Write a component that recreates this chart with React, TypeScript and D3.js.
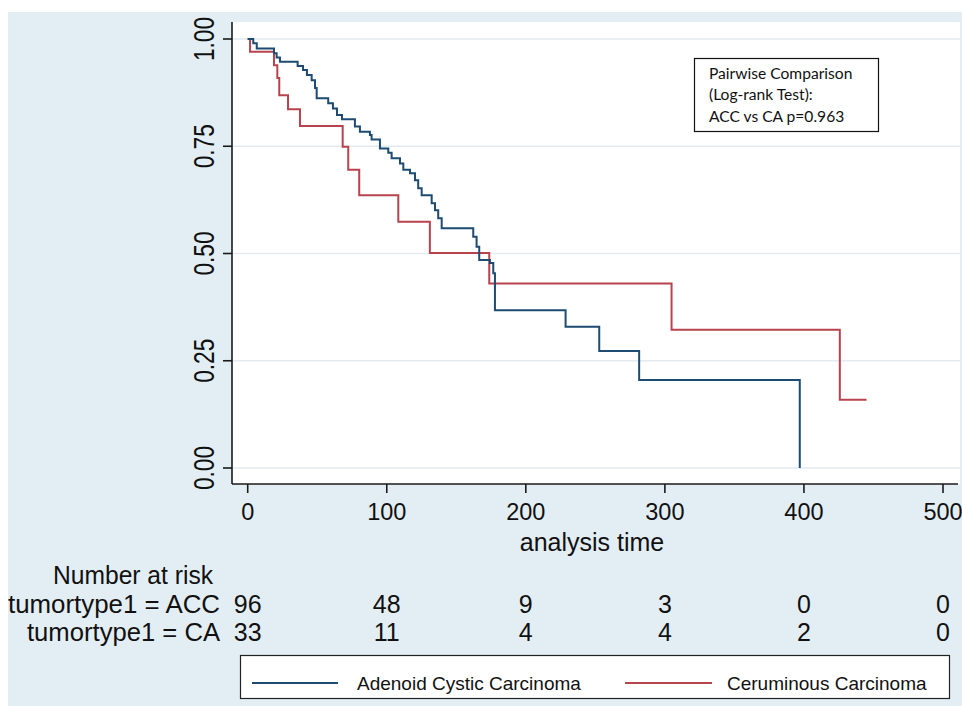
import React from "react";
import * as d3 from "d3";

const accTimes = [0, 4.0, 6.5, 18.9, 20.8, 23.2, 35.9, 39.8, 42.6, 46.0, 48.4, 49.6, 57.9, 61.3, 64.2, 67.8, 77.1, 80.7, 87.9, 89.1, 95.1, 101.1, 103.5, 109.5, 111.9, 116.7, 120.3, 122.6, 125.1, 132.3, 134.7, 137.0, 139.5, 162.2, 164.6, 166.5, 174.2, 176.6, 177.8, 228.6, 252.8, 281.5, 397];
const accSurv = [1, 0.990, 0.978, 0.967, 0.957, 0.947, 0.937, 0.928, 0.916, 0.904, 0.886, 0.862, 0.850, 0.838, 0.823, 0.813, 0.796, 0.784, 0.776, 0.766, 0.745, 0.735, 0.722, 0.710, 0.695, 0.687, 0.671, 0.652, 0.636, 0.617, 0.601, 0.582, 0.559, 0.539, 0.516, 0.485, 0.478, 0.454, 0.368, 0.329, 0.273, 0.205, 0];

const caTimes = [0, 1.7, 18.9, 21.3, 22.7, 29.0, 37.6, 68.3, 72.3, 80.2, 108.3, 131.0, 173.7, 304.8, 425.8, 445];
const caSurv = [1, 0.970, 0.939, 0.909, 0.869, 0.836, 0.797, 0.749, 0.695, 0.636, 0.574, 0.501, 0.430, 0.322, 0.159, 0.159];

const xTicks = [0, 100, 200, 300, 400, 500];
const yTicks = [0, 0.25, 0.5, 0.75, 1];
const riskRowLabels = ["tumortype1 = ACC", "tumortype1 = CA"];
const riskACC = [96, 48, 9, 3, 0, 0];
const riskCA = [33, 11, 4, 4, 2, 0];
const legendLabels = ["Adenoid Cystic Carcinoma", "Ceruminous Carcinoma"];
const annotationLines = ["Pairwise Comparison", "(Log-rank Test):", "ACC vs CA p=0.963"];

const BLUE = "#1d4b72";
const RED = "#b8434e";
const BG = "#e3eef4";
const FONT = "'Liberation Sans', Arial, Helvetica, sans-serif";

export default function App() {
  const W = 962, H = 706;
  const x = d3.scaleLinear().domain([0, 500]).range([247.7, 943]);
  const y = d3.scaleLinear().domain([0, 1]).range([468, 39]);
  const line = d3.line<[number, number]>().x(d => x(d[0])).y(d => y(d[1])).curve(d3.curveStepAfter);
  const acc: [number, number][] = accTimes.map((t, i) => [t, accSurv[i]]);
  const ca: [number, number][] = caTimes.map((t, i) => [t, caSurv[i]]);
  const plotL = 232, plotR = 960, plotT = 22, plotB = 484;
  const risk = [riskACC, riskCA];
  const rowLabelWidths = [212, 193];

  return (
    <div style={{ position: "absolute", left: 0, top: 0 }}>
      <svg width={W} height={H} style={{ display: "block" }} fontFamily={FONT}>
        <rect x={0} y={0} width={W} height={H} fill="#ffffff" />
        <rect x={8} y={12} width={W - 8} height={H - 12} fill={BG} />
        <rect x={plotL} y={plotT} width={plotR - plotL} height={plotB - plotT} fill="#ffffff" />
        {yTicks.map(v => (
          <line key={"g" + v} x1={plotL} x2={plotR} y1={y(v)} y2={y(v)} stroke="#e3eaf0" strokeWidth={1.5} />
        ))}
        {/* axes */}
        <line x1={plotL} x2={plotL} y1={plotT} y2={plotB} stroke="#1a1a1a" strokeWidth={1.6} />
        <line x1={plotL} x2={plotR - 2} y1={plotB} y2={plotB} stroke="#1a1a1a" strokeWidth={1.6} />
        {yTicks.map(v => (
          <g key={"y" + v}>
            <line x1={plotL - 9} x2={plotL} y1={y(v)} y2={y(v)} stroke="#1a1a1a" strokeWidth={1.6} />
            <text transform={`translate(${213.5},${y(v)}) rotate(-90) scale(0.78,1)`} textAnchor="middle" fontSize={29} fill="#111">
              {v.toFixed(2)}
            </text>
          </g>
        ))}
        {xTicks.map(v => (
          <g key={"x" + v}>
            <line x1={x(v)} x2={x(v)} y1={plotB} y2={plotB + 9} stroke="#1a1a1a" strokeWidth={1.6} />
            <text x={x(v)} y={520} textAnchor="middle" fontSize={23.5} fill="#111">{v}</text>
          </g>
        ))}
        <text x={592} y={551} textAnchor="middle" fontSize={25} fill="#111">analysis time</text>

        {/* curves */}
        <path d={line(ca) || ""} fill="none" stroke={RED} strokeWidth={2} />
        <path d={line(acc) || ""} fill="none" stroke={BLUE} strokeWidth={2} />

        {/* annotation box */}
        <rect x={694.5} y={58.5} width={184} height={73} fill="#ffffff" stroke="#111" strokeWidth={1.2} />
        {annotationLines.map((s, i) => (
          <text key={s} x={709} y={78.5 + i * 21.7} fontSize={15.6} fontFamily="Lato, 'Liberation Sans', sans-serif" fill="#111">{s}</text>
        ))}

        {/* number at risk */}
        <text x={213} y={584} textAnchor="end" fontSize={25} textLength={160} lengthAdjust="spacingAndGlyphs" fill="#111">Number at risk</text>
        {riskRowLabels.map((lab, r) => (
          <g key={lab}>
            <text x={220} y={613 + r * 28} textAnchor="end" fontSize={25} textLength={rowLabelWidths[r]} lengthAdjust="spacingAndGlyphs" fill="#111">{lab}</text>
            {risk[r].map((n, i) => (
              <text key={i} x={x(xTicks[i])} y={613 + r * 28} textAnchor="middle" fontSize={25} fill="#111">{n}</text>
            ))}
          </g>
        ))}

        {/* legend */}
        <rect x={240.5} y={655.5} width={709} height={43} fill="#ffffff" stroke="#222" strokeWidth={1.2} />
        <line x1={252} x2={338} y1={683} y2={683} stroke={BLUE} strokeWidth={2} />
        <text x={357} y={690} fontSize={19} fill="#111">{legendLabels[0]}</text>
        <line x1={625} x2={712} y1={683} y2={683} stroke={RED} strokeWidth={2} />
        <text x={727} y={690} fontSize={19} fill="#111">{legendLabels[1]}</text>
      </svg>
    </div>
  );
}
